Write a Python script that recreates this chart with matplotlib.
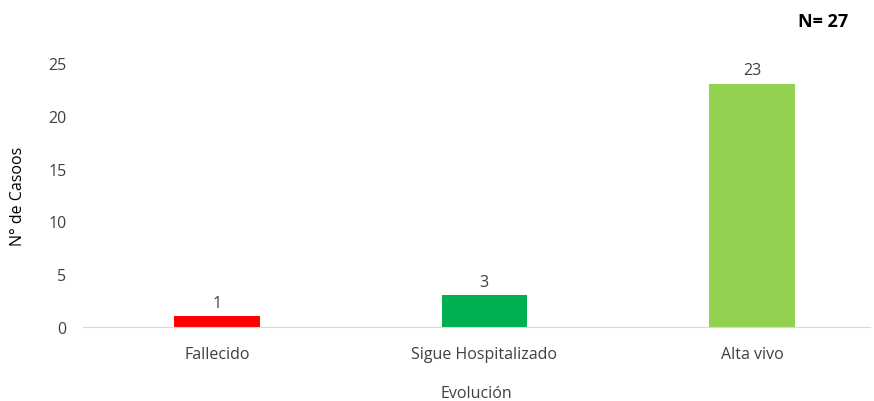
import matplotlib.pyplot as plt
import numpy as np

plt.rcParams['font.family'] = ['Open Sans', 'DejaVu Sans']

categorias = ['Fallecido', 'Sigue Hospitalizado', 'Alta vivo']
casos = [1, 3, 23]
colores = ['#FF0000', '#00B050', '#92D050']

fig = plt.figure(figsize=(8.74, 4.02), dpi=100)
ax = fig.add_axes([0.095, 0.184, 0.9, 0.657])

x = np.arange(len(categorias))
bars = ax.bar(x, casos, 0.32, color=colores)
for b, v in zip(bars, casos):
    ax.annotate(str(v), xy=(b.get_x() + b.get_width() / 2, v), xytext=(0, 4),
                textcoords='offset points', ha='center', va='bottom', fontsize=11.5, color='#404040')

ax.set_xlim(-0.5, 2.44)
ax.set_ylim(0, 25)
ax.set_yticks([0, 5, 10, 15, 20, 25])
ax.set_xticks(x)
ax.set_xticklabels(categorias)
ax.tick_params(axis='both', length=0, labelsize=11.5, labelcolor='#404040')
ax.tick_params(axis='x', pad=14)
ax.tick_params(axis='y', pad=12)
for s in ['top', 'right', 'left']:
    ax.spines[s].set_visible(False)
ax.spines['bottom'].set_color('#d9d9d9')
ax.set_xlabel('Evolución', fontsize=11.5, color='#404040', labelpad=16)
ax.set_ylabel('N° de Casoos', fontsize=11.5, color='black', labelpad=16)
fig.text(0.97, 0.945, 'N= 27', ha='right', va='center', fontsize=13, fontweight='bold')

fig.savefig('out.png', dpi=100)
